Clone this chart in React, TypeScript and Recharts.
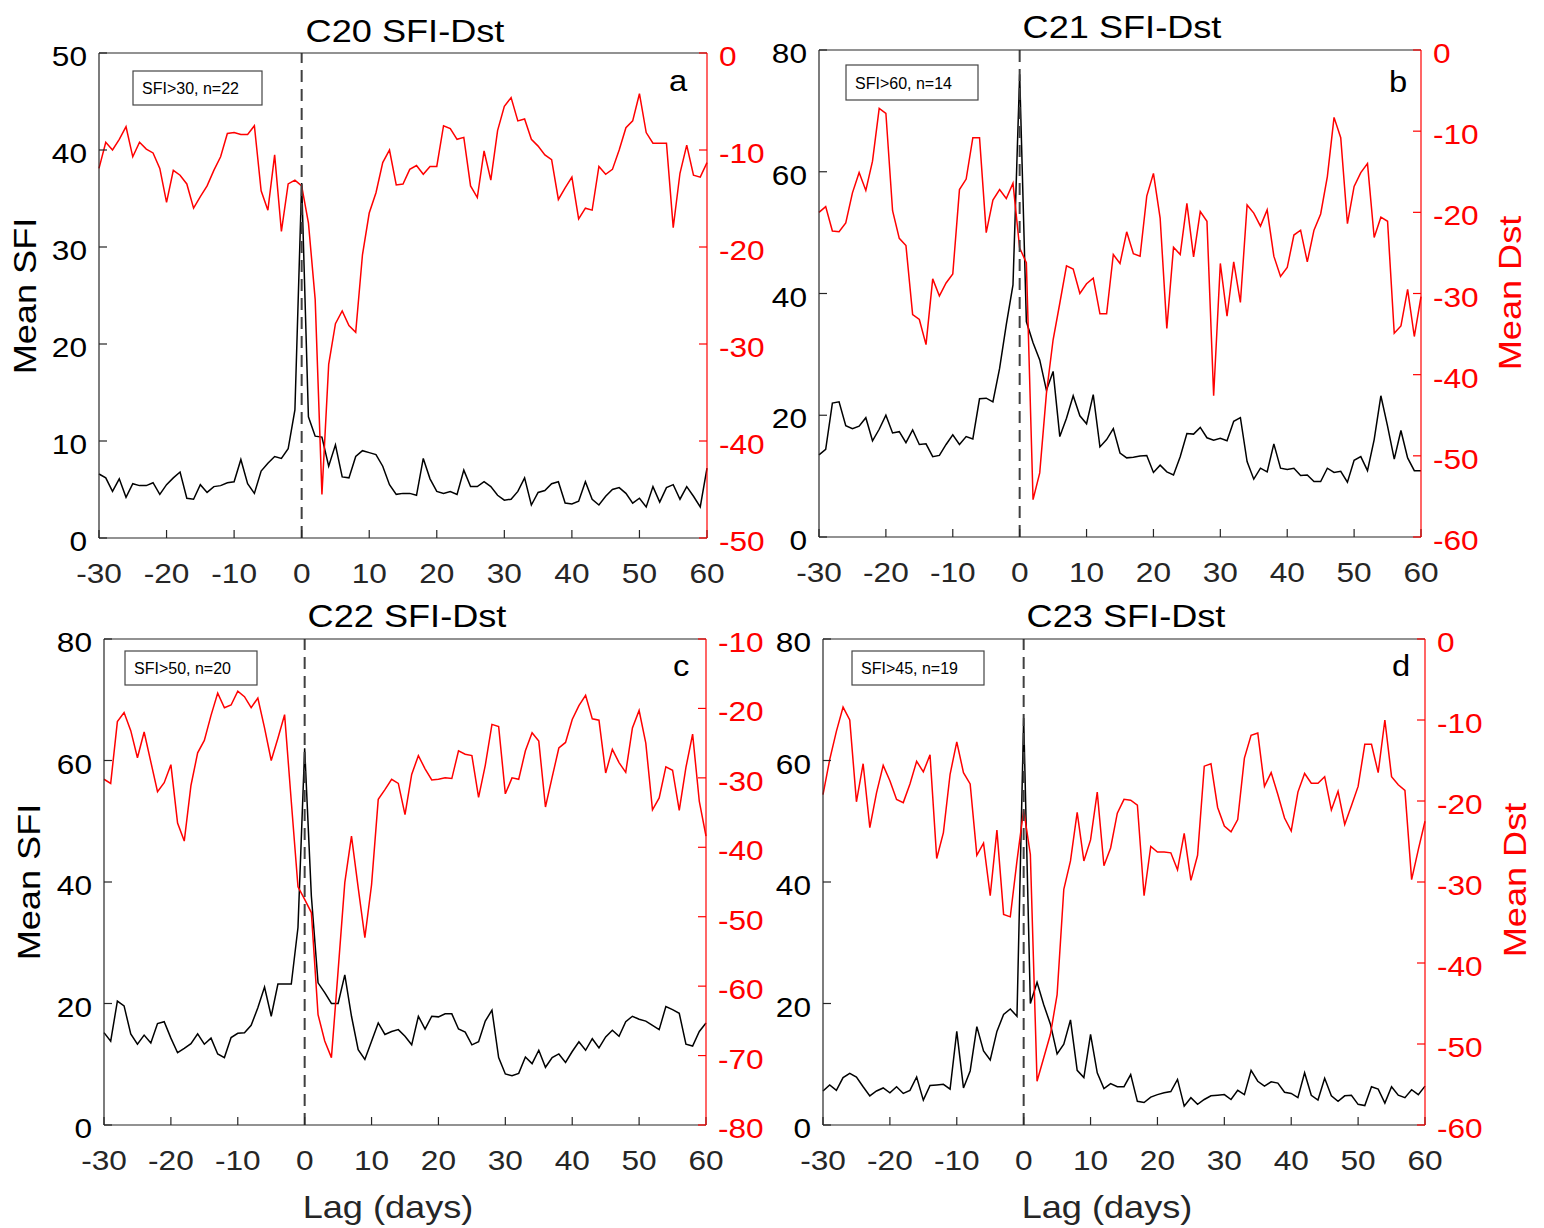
import React from 'react';
import { LineChart, Line, XAxis, YAxis, ReferenceLine } from 'recharts';

// lag axis, days
const LAGS = [
  -30, -29, -28, -27, -26, -25, -24, -23, -22, -21,
  -20, -19, -18, -17, -16, -15, -14, -13, -12, -11,
  -10, -9, -8, -7, -6, -5, -4, -3, -2, -1,
  0, 1, 2, 3, 4, 5, 6, 7, 8, 9,
  10, 11, 12, 13, 14, 15, 16, 17, 18, 19,
  20, 21, 22, 23, 24, 25, 26, 27, 28, 29,
  30, 31, 32, 33, 34, 35, 36, 37, 38, 39,
  40, 41, 42, 43, 44, 45, 46, 47, 48, 49,
  50, 51, 52, 53, 54, 55, 56, 57, 58, 59,
  60,
];

const LAG_TICKS = [-30, -20, -10, 0, 10, 20, 30, 40, 50, 60];
const SFI_TICKS_50 = [0, 10, 20, 30, 40, 50];
const SFI_TICKS_80 = [0, 20, 40, 60, 80];
const DST_TICKS_50 = [-50, -40, -30, -20, -10, 0];
const DST_TICKS_60 = [-60, -50, -40, -30, -20, -10, 0];
const DST_TICKS_80 = [-80, -70, -60, -50, -40, -30, -20, -10];

// cycle 20
const sfiC20 = [
  6.6, 6.2, 4.8, 6.1, 4.2, 5.6, 5.4, 5.4, 5.7, 4.5,
  5.5, 6.2, 6.8, 4.1, 4.0, 5.5, 4.7, 5.3, 5.4, 5.7,
  5.8, 8.1, 5.6, 4.6, 6.9, 7.7, 8.4, 8.2, 9.2, 13.2,
  36.6, 12.5, 10.5, 10.4, 7.4, 9.6, 6.3, 6.2, 8.4, 9.0,
  8.8, 8.6, 7.4, 5.5, 4.5, 4.6, 4.6, 4.4, 8.2, 6.1,
  4.8, 4.6, 4.8, 4.5, 7.0, 5.3, 5.3, 5.8, 5.3, 4.4,
  3.9, 4.0, 4.8, 6.2, 3.4, 4.7, 4.9, 5.6, 5.8, 3.6,
  3.5, 3.8, 5.8, 4.0, 3.4, 4.3, 5.0, 5.2, 4.6, 3.6,
  4.1, 3.2, 5.3, 3.7, 5.2, 5.5, 4.0, 5.3, 4.3, 3.2,
  7.2,
];
const dstC20 = [
  -11.9, -9.2, -10.0, -8.9, -7.6, -10.7, -9.2, -9.9, -10.3, -11.9,
  -15.4, -12.1, -12.6, -13.5, -16.0, -14.8, -13.7, -12.1, -10.7, -8.3,
  -8.2, -8.4, -8.4, -7.5, -14.2, -16.2, -10.5, -18.4, -13.5, -13.1,
  -13.7, -17.5, -25.4, -45.5, -32.1, -27.9, -26.6, -28.1, -28.8, -20.8,
  -16.5, -14.4, -11.3, -10.0, -13.6, -13.5, -12.0, -11.6, -12.5, -11.7,
  -11.7, -7.5, -7.8, -8.9, -8.7, -13.7, -14.9, -10.1, -13.1, -8.0,
  -5.5, -4.6, -7.0, -6.8, -8.9, -9.6, -10.5, -11.0, -15.1, -13.9,
  -12.8, -17.1, -16.0, -16.2, -11.7, -12.5, -12.0, -10.0, -7.7, -7.0,
  -4.2, -8.2, -9.3, -9.3, -9.3, -18.0, -12.4, -9.5, -12.6, -12.8,
  -11.3,
];

// cycle 21
const sfiC21 = [
  13.5, 14.4, 22.0, 22.2, 18.3, 17.8, 18.2, 19.6, 15.8, 17.7,
  20.0, 17.1, 17.3, 15.5, 17.6, 15.2, 15.3, 13.2, 13.4, 15.2,
  16.8, 15.2, 16.5, 16.1, 22.7, 22.8, 22.2, 27.7, 34.9, 41.4,
  76.0, 35.4, 31.9, 29.1, 24.1, 27.2, 16.5, 19.5, 23.2, 19.9,
  18.6, 23.4, 14.8, 16.0, 17.8, 13.8, 13.0, 13.1, 13.3, 13.4,
  10.6, 11.8, 10.7, 10.2, 13.2, 17.0, 16.9, 18.0, 16.3, 15.9,
  16.2, 15.8, 19.0, 19.6, 12.4, 9.5, 11.3, 10.7, 15.3, 11.3,
  11.1, 11.3, 10.1, 10.2, 9.1, 9.1, 11.3, 10.6, 10.8, 9.0,
  12.6, 13.2, 10.9, 16.0, 23.2, 18.2, 12.8, 17.5, 13.0, 10.9,
  10.9,
];
const dstC21 = [
  -20.0, -19.3, -22.3, -22.4, -21.3, -17.6, -15.1, -17.3, -13.7, -7.2,
  -7.8, -19.8, -23.2, -24.1, -32.6, -33.2, -36.3, -28.2, -30.3, -28.7,
  -27.6, -17.2, -15.9, -10.8, -10.8, -22.5, -18.5, -17.2, -18.3, -16.4,
  -24.4, -26.2, -55.4, -52.1, -42.3, -35.7, -31.2, -26.6, -27.0, -30.0,
  -28.8, -28.1, -32.5, -32.5, -25.2, -26.3, -22.4, -25.1, -25.4, -18.0,
  -15.2, -20.7, -34.3, -24.3, -25.2, -18.9, -25.5, -19.9, -21.1, -42.6,
  -26.3, -32.8, -26.1, -31.1, -19.1, -20.1, -21.7, -19.7, -25.4, -27.9,
  -26.8, -22.8, -22.2, -26.1, -22.2, -20.2, -15.6, -8.3, -10.8, -21.4,
  -16.8, -15.1, -14.0, -23.1, -20.6, -21.1, -34.9, -34.0, -29.5, -35.3,
  -30.4,
];

// cycle 22
const sfiC22 = [
  15.2, 13.8, 20.4, 19.6, 15.0, 13.3, 14.8, 13.5, 16.7, 17.0,
  14.3, 11.9, 12.6, 13.4, 15.0, 13.3, 14.3, 11.7, 11.1, 14.4,
  15.1, 15.2, 16.4, 19.3, 22.7, 17.9, 23.2, 23.2, 23.2, 32.5,
  62.0, 37.7, 23.4, 21.8, 20.0, 20.0, 24.7, 17.9, 12.4, 10.8,
  13.8, 16.8, 14.9, 15.4, 15.7, 14.6, 13.2, 17.9, 15.8, 17.9,
  17.8, 18.3, 18.3, 15.8, 15.3, 13.2, 13.7, 17.1, 18.9, 11.1,
  8.4, 8.1, 8.5, 11.2, 10.1, 12.3, 9.5, 11.1, 11.7, 10.3,
  12.1, 13.7, 12.3, 14.2, 12.7, 14.5, 15.6, 14.6, 17.0, 17.9,
  17.4, 17.1, 16.4, 15.7, 19.5, 19.0, 18.4, 13.3, 13.0, 15.4,
  16.8,
];
const dstC22 = [
  -30.2, -30.8, -21.9, -20.6, -23.2, -27.1, -23.4, -27.7, -32.0, -30.7,
  -28.1, -36.5, -39.1, -31.1, -26.4, -24.6, -21.0, -17.8, -19.9, -19.5,
  -17.5, -18.3, -19.9, -18.5, -22.8, -27.5, -24.3, -20.9, -33.4, -45.7,
  -47.5, -49.4, -64.1, -67.9, -70.3, -57.8, -45.1, -38.4, -45.8, -53.0,
  -45.4, -33.1, -31.7, -30.2, -30.8, -35.3, -29.5, -26.8, -28.7, -30.3,
  -30.2, -30.0, -30.1, -26.1, -26.6, -26.8, -32.8, -28.2, -22.3, -22.6,
  -32.3, -30.0, -30.2, -26.1, -23.5, -24.7, -34.2, -29.9, -25.7, -24.9,
  -21.6, -19.6, -18.1, -21.5, -21.7, -29.3, -25.9, -27.8, -29.2, -22.8,
  -20.3, -25.0, -34.6, -32.9, -28.4, -28.9, -34.7, -28.5, -23.7, -33.4,
  -38.4,
];

// cycle 23
const sfiC23 = [
  5.6, 6.6, 5.7, 7.8, 8.5, 7.9, 6.3, 4.8, 5.6, 6.1,
  5.3, 6.3, 5.2, 5.7, 7.9, 4.1, 6.5, 6.6, 6.7, 5.9,
  15.4, 6.1, 8.9, 16.2, 12.2, 10.7, 15.4, 18.2, 19.1, 17.9,
  67.0, 20.0, 23.5, 19.8, 16.6, 11.7, 13.3, 17.3, 9.0, 7.8,
  14.9, 8.6, 6.0, 6.8, 6.3, 6.3, 8.3, 3.9, 3.7, 4.6,
  5.0, 5.3, 5.5, 7.5, 3.1, 4.5, 3.4, 4.2, 4.8, 4.9,
  5.0, 4.2, 5.7, 5.0, 9.0, 7.2, 6.4, 7.1, 6.9, 5.4,
  5.2, 4.5, 8.6, 4.9, 4.1, 7.7, 4.8, 3.9, 4.8, 4.9,
  3.4, 3.2, 6.3, 5.9, 3.6, 6.3, 4.9, 4.5, 5.8, 5.0,
  6.4,
];
const dstC23 = [
  -19.2, -14.9, -11.4, -8.4, -10.0, -20.1, -15.4, -23.3, -19.0, -15.6,
  -17.5, -19.8, -20.2, -17.9, -15.1, -16.4, -14.3, -27.1, -23.9, -16.7,
  -12.7, -16.5, -17.9, -26.7, -25.2, -31.7, -23.6, -34.0, -34.3, -27.4,
  -21.1, -26.6, -54.6, -51.7, -48.8, -43.9, -30.9, -27.4, -21.4, -27.4,
  -24.8, -18.9, -28.0, -25.8, -21.5, -19.8, -19.9, -20.5, -31.7, -25.6,
  -26.3, -26.3, -26.4, -28.5, -24.0, -29.8, -26.7, -15.7, -15.4, -20.8,
  -23.1, -23.8, -22.3, -14.7, -11.9, -11.6, -18.2, -16.5, -19.2, -22.1,
  -23.7, -18.9, -16.6, -17.8, -17.8, -17.0, -21.1, -18.8, -22.9, -20.6,
  -18.2, -13.0, -13.0, -16.5, -10.0, -17.0, -18.0, -18.7, -29.7, -26.0,
  -22.5,
];

const W = 1544;
const H = 1228;
const FONT = '"Liberation Sans", Arial, sans-serif';
const SX = 1.13; // the source text is a bit wider than Arial
const TXT = '#262626';
const RED = '#ff0000';

const panels = [
  {
    key: 'a', title: 'C20 SFI-Dst', note: 'SFI>30, n=22', sfi: sfiC20, dst: dstC20,
    sfiDomain: [0, 50], sfiTicks: SFI_TICKS_50, dstDomain: [-50, 0], dstTicks: DST_TICKS_50,
    plot: { x0: 99, x1: 707, y0: 53, y1: 538 }, titleY: 42, noteBox: [133, 71, 129, 34],
    letterXY: [669, 91], leftLabel: [36, 296], rightLabel: null, bottomLabel: false,
  },
  {
    key: 'b', title: 'C21 SFI-Dst', note: 'SFI>60, n=14', sfi: sfiC21, dst: dstC21,
    sfiDomain: [0, 80], sfiTicks: SFI_TICKS_80, dstDomain: [-60, 0], dstTicks: DST_TICKS_60,
    plot: { x0: 819, x1: 1421, y0: 50, y1: 537 }, titleY: 38, noteBox: [846, 65, 132, 35],
    letterXY: [1389, 92], leftLabel: null, rightLabel: [1521, 293], bottomLabel: false,
  },
  {
    key: 'c', title: 'C22 SFI-Dst', note: 'SFI>50, n=20', sfi: sfiC22, dst: dstC22,
    sfiDomain: [0, 80], sfiTicks: SFI_TICKS_80, dstDomain: [-80, -10], dstTicks: DST_TICKS_80,
    plot: { x0: 104, x1: 706, y0: 639, y1: 1125 }, titleY: 627, noteBox: [125, 651, 132, 34],
    letterXY: [673, 676], leftLabel: [40, 882], rightLabel: null, bottomLabel: true,
  },
  {
    key: 'd', title: 'C23 SFI-Dst', note: 'SFI>45, n=19', sfi: sfiC23, dst: dstC23,
    sfiDomain: [0, 80], sfiTicks: SFI_TICKS_80, dstDomain: [-60, 0], dstTicks: DST_TICKS_60,
    plot: { x0: 823, x1: 1425, y0: 639, y1: 1125 }, titleY: 627, noteBox: [852, 651, 132, 34],
    letterXY: [1392, 676], leftLabel: null, rightLabel: [1526, 880], bottomLabel: true,
  },
];

const LEFT_W = 60;
const RIGHT_W = 60;
const BOTTOM_H = 40;
const TOP_H = 1;

function stretched(x: number, y: number, size: number, fill: string, anchor: string, label: any, key?: any) {
  return (
    <text
      key={key}
      transform={`translate(${x} ${y}) scale(${SX} 1)`}
      textAnchor={anchor}
      fontSize={size}
      fill={fill}
      fontFamily={FONT}
    >
      {label}
    </text>
  );
}

function Panel({ cfg }: { cfg: any }) {
  const { x0, x1, y0, y1 } = cfg.plot;
  const rows = LAGS.map((lag, i) => ({ lag, sfi: cfg.sfi[i], dst: cfg.dst[i] }));
  const axisStyle = { stroke: TXT, strokeWidth: 1.2 };
  const redStyle = { stroke: RED, strokeWidth: 1.2 };

  return (
    <div style={{ position: 'absolute', left: 0, top: 0 }}>
      <LineChart
        width={W}
        height={H}
        data={rows}
        margin={{ top: y0 - TOP_H, bottom: H - y1 - BOTTOM_H, left: x0 - LEFT_W, right: W - x1 - RIGHT_W }}
      >
        <XAxis
          xAxisId="bottom"
          dataKey="lag"
          type="number"
          domain={[-30, 60]}
          ticks={LAG_TICKS}
          interval={0}
          height={BOTTOM_H}
          axisLine={axisStyle}
          tickLine={axisStyle}
          tickSize={-8}
          tick={(p: any) => stretched(p.x, y1 + 45, 28, TXT, 'middle', p.payload.value)}
        />
        <XAxis
          xAxisId="top"
          orientation="top"
          dataKey="lag"
          type="number"
          domain={[-30, 60]}
          ticks={LAG_TICKS}
          interval={0}
          height={TOP_H}
          axisLine={axisStyle}
          tickLine={axisStyle}
          tickSize={-8}
          tick={false}
        />
        <YAxis
          yAxisId="sfi"
          type="number"
          domain={cfg.sfiDomain}
          ticks={cfg.sfiTicks}
          interval={0}
          width={LEFT_W}
          axisLine={axisStyle}
          tickLine={axisStyle}
          tickSize={-8}
          tick={(p: any) => stretched(x0 - 12, p.y + 13, 28, '#000', 'end', p.payload.value)}
        />
        <YAxis
          yAxisId="dst"
          orientation="right"
          type="number"
          domain={cfg.dstDomain}
          ticks={cfg.dstTicks}
          interval={0}
          width={RIGHT_W}
          axisLine={redStyle}
          tickLine={redStyle}
          tickSize={-8}
          tick={(p: any) => stretched(x1 + 12, p.y + 13, 28, RED, 'start', p.payload.value)}
        />
        <Line
          xAxisId="bottom"
          yAxisId="sfi"
          type="linear"
          dataKey="sfi"
          stroke="#000"
          strokeWidth={1.5}
          dot={false}
          activeDot={false}
          isAnimationActive={false}
        />
        <Line
          xAxisId="bottom"
          yAxisId="dst"
          type="linear"
          dataKey="dst"
          stroke={RED}
          strokeWidth={1.5}
          dot={false}
          activeDot={false}
          isAnimationActive={false}
        />
        <ReferenceLine
          xAxisId="bottom"
          yAxisId="sfi"
          x={0}
          stroke="#404040"
          strokeWidth={2}
          strokeDasharray="12 7"
        />
      </LineChart>
    </div>
  );
}

function Labels() {
  return (
    <svg
      width={W}
      height={H}
      style={{ position: 'absolute', left: 0, top: 0, pointerEvents: 'none' }}
    >
      {panels.map((cfg) => {
        const { x0, x1, y1 } = cfg.plot;
        const cx = (x0 + x1) / 2;
        const [bx, by, bw, bh] = cfg.noteBox;
        return (
          <g key={cfg.key}>
            {stretched(cx + 2, cfg.titleY, 32, '#000', 'middle', cfg.title)}
            <rect x={bx} y={by} width={bw} height={bh} fill="#fff" stroke="#444" strokeWidth={1.2} />
            <text x={bx + 9} y={by + bh / 2 + 6} fontSize={16} fill="#000" fontFamily={FONT}>
              {cfg.note}
            </text>
            {stretched(cfg.letterXY[0], cfg.letterXY[1], 29, '#000', 'start', cfg.key)}
            {cfg.leftLabel && (
              <text
                transform={`translate(${cfg.leftLabel[0]} ${cfg.leftLabel[1]}) rotate(-90) scale(${SX} 1)`}
                textAnchor="middle"
                fontSize={32}
                fill="#000"
                fontFamily={FONT}
              >
                Mean SFI
              </text>
            )}
            {cfg.rightLabel && (
              <text
                transform={`translate(${cfg.rightLabel[0]} ${cfg.rightLabel[1]}) rotate(-90) scale(${SX} 1)`}
                textAnchor="middle"
                fontSize={32}
                fill={RED}
                fontFamily={FONT}
              >
                Mean Dst
              </text>
            )}
            {cfg.bottomLabel && stretched(cx - 17, 1218, 32, TXT, 'middle', 'Lag (days)')}
          </g>
        );
      })}
    </svg>
  );
}

export default function App() {
  return (
    <div
      style={{
        position: 'absolute',
        left: 0,
        top: 0,
        width: W,
        height: H,
        background: '#fff',
        fontFamily: FONT,
        overflow: 'hidden',
      }}
    >
      {panels.map((cfg) => (
        <Panel key={cfg.key} cfg={cfg} />
      ))}
      <Labels />
    </div>
  );
}
